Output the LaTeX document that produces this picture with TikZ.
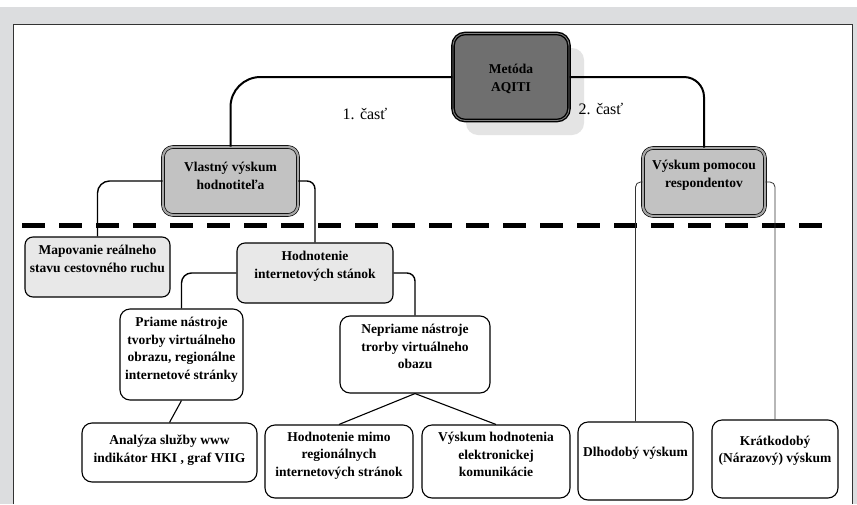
\documentclass[tikz,border=0pt]{standalone}
\usepackage{fontspec}
\setmainfont{Liberation Serif}
\definecolor{bggray}{HTML}{DCDDDF}
\definecolor{shadowgray}{HTML}{E4E4E4}
\definecolor{darkfill}{HTML}{6F6F6F}
\definecolor{midfill}{HTML}{C2C2C2}
\definecolor{lightfill}{HTML}{E8E8E8}
\begin{document}
\begin{tikzpicture}[x=1pt,y=-1pt,
  metbox/.style={draw=black, fill=darkfill, rounded corners=12pt, line width=1.4pt, double=gray, double distance=0.9pt},
  midbox/.style={draw=black, fill=midfill, rounded corners=10pt, line width=0.7pt, double=gray!70, double distance=2.2pt},
  lightbox/.style={draw=black, fill=lightfill, rounded corners=8pt, line width=1.1pt},
  plainbox/.style={draw=black, fill=white, rounded corners=10pt, line width=1.1pt},
  txt/.style={align=center, inner sep=0pt, font=\bfseries\fontsize{13.5}{17.5}\selectfont},
  parttxt/.style={inner sep=0pt, font=\fontsize{16}{19}\selectfont},
  thickcon/.style={draw=black, line width=2pt, rounded corners=#1},
  medcon/.style={draw=black, line width=1.4pt, rounded corners=#1},
  thincon/.style={draw=black!80, line width=0.8pt, rounded corners=#1},
  diagcon/.style={draw=black, line width=1.1pt}
]
\useasboundingbox (0,0) rectangle (857,504);
\fill[bggray] (0,0) rectangle (857,504);
\fill[white] (0,0) rectangle (857,7);
\fill[white] (13,24) rectangle (852,504);
\draw[line width=0.9pt, black!80] (13,504) -- (13,24) -- (852,24) -- (852,504);

% dashed separator
\coordinate (dashL) at (22,225);
\coordinate (dashR) at (825,225);
\draw[line width=5pt, dash pattern=on 23pt off 14pt] (dashL) -- (dashR);

% shadow of top box
\fill[shadowgray, rounded corners=12pt] (466,48) rectangle (584,135);

% boxes
\node[metbox, minimum width=116pt, minimum height=87pt] (met) at (511,77) {};
\node[midbox, minimum width=135pt, minimum height=68pt] (vl) at (230.5,181) {};
\node[midbox, minimum width=122pt, minimum height=68pt] (vp) at (704,182) {};
\node[lightbox, minimum width=145pt, minimum height=60pt] (map) at (97.5,267) {};
\node[lightbox, minimum width=156pt, minimum height=60pt] (hi) at (315,273) {};
\node[plainbox, minimum width=123pt, minimum height=91pt] (pr) at (181.5,354.5) {};
\node[plainbox, minimum width=150pt, minimum height=77pt] (ne) at (415,354.5) {};
\node[plainbox, minimum width=175pt, minimum height=59pt] (an) at (169.5,452.5) {};
\node[plainbox, minimum width=148pt, minimum height=73pt] (hm) at (339,461.5) {};
\node[plainbox, minimum width=148pt, minimum height=73pt] (vh) at (496,461.5) {};
\node[plainbox, minimum width=115pt, minimum height=78pt] (dl) at (635.5,461) {};
\node[plainbox, minimum width=126pt, minimum height=78pt] (kr) at (775,459) {};

% texts
\node[txt] (met-t) at (511,79) {Metóda\\AQITI};
\node[txt] (vl-t) at (230.5,176) {Vlastný výskum\\hodnotiteľa};
\node[txt] (vp-t) at (704,175) {Výskum pomocou\\respondentov};
\node[txt] (map-t) at (97.5,259) {Mapovanie reálneho\\stavu cestovného ruchu};
\node[txt] (hi-t) at (315,266.5) {Hodnotenie\\internetových stánok};
\node[txt] (pr-t) at (181.5,350) {Priame nástroje\\tvorby virtuálneho\\obrazu, regionálne\\internetové stránky};
\node[txt] (ne-t) at (415,346.5) {Nepriame nástroje\\trorby virtuálneho\\obazu};
\node[txt] (an-t) at (169.5,450) {Analýza služby www\\indikátor HKI , graf VIIG};
\node[txt] (hm-t) at (339,455.5) {Hodnotenie mimo\\regionálnych\\internetových stránok};
\node[txt] (vh-t) at (496,454.5) {Výskum hodnotenia\\elektronickej\\komunikácie};
\node[txt] (dl-t) at (635.5,453) {Dlhodobý výskum};
\node[txt] (kr-t) at (775,451) {Krátkodobý\\(Nárazový) výskum};

\node[parttxt] (p1) at (365,114) {1. časť};
\node[parttxt] (p2) at (601,109) {2. časť};

% connectors
\draw[thickcon=30pt] (met.west) -| (vl.north);
\draw[thickcon=20pt] (met.east) -| (vp.north);
\draw[medcon=12pt] (vl.west) -| (map.north);
\draw[medcon=8pt] (vl.east) -| (hi.north);
\draw[medcon=10pt] (hi.west) -| (pr.north);
\draw[medcon=8pt] (hi.east) -| (ne.north);
\draw[thincon=5pt] (vp.west) -| (dl.north);
\draw[thincon=5pt] (vp.east) -| (kr.north);
\draw[diagcon] (pr.south) -- (an.north);
\draw[diagcon] (ne.south) -- (hm.north);
\draw[diagcon] (ne.south) -- (vh.north);
\end{tikzpicture}
\end{document}
